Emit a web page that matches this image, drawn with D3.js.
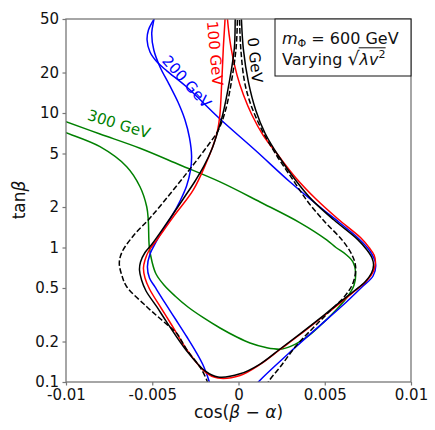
<!DOCTYPE html>
<html>
<head>
<meta charset="utf-8">
<script src="https://cdn.jsdelivr.net/npm/d3@7"></script>
<style>
  body { margin: 0; background: #fff; }
  svg { display: block; }
  text { font-family: "DejaVu Sans", sans-serif; fill: #111; }
</style>
</head>
<body>
<svg id="chart" width="435" height="430"></svg>
<script>
// Axis ticks
const xTicks = [-0.01, -0.005, 0, 0.005, 0.01];
const xTickLabels = ["-0.01", "-0.005", "0", "0.005", "0.01"];
const yTicks = [0.1, 0.2, 0.5, 1, 2, 5, 10, 20, 50];
const yTickLabels = ["0.1", "0.2", "0.5", "1", "2", "5", "10", "20", "50"];

// Contours in (cos(beta - alpha), tan beta); sqrt(lambda v^2) = 0 GeV
const contour0 = [
  [-0.00018, 56], [-0.00019, 50], [-0.00024, 30.4], [-0.00053, 17.1], [-0.00092, 9.66],
  [-0.00119, 7.35], [-0.00154, 5.40], [-0.002, 4.04], [-0.00255, 3.07], [-0.00313, 2.375],
  [-0.00417, 1.51], [-0.00501, 1.062], [-0.00542, 0.918], [-0.00568, 0.78], [-0.00574, 0.68],
  [-0.00562, 0.573], [-0.00536, 0.475], [-0.00474, 0.363], [-0.00416, 0.279], [-0.003, 0.170],
  [-0.00194, 0.121], [-0.00119, 0.109], [0.00009, 0.115], [0.00125, 0.136], [0.00241, 0.176],
  [0.00357, 0.228], [0.00472, 0.297], [0.00559, 0.367], [0.0067, 0.475], [0.00733, 0.554],
  [0.00771, 0.646], [0.00783, 0.741], [0.00774, 0.836], [0.00745, 0.958], [0.00693, 1.14],
  [0.00554, 1.60], [0.00426, 2.26], [0.0033, 3.18], [0.00235, 4.73], [0.00154, 7.07],
  [0.001, 10.5], [0.00057, 17.1], [0.00028, 30], [0.00017, 50], [0.00016, 56]
];

// Reference contour (dashed), two open branches
const referenceLeft = [
  [-0.00005, 56], [-0.00006, 50], [-0.00014, 30.4], [-0.00041, 17.1], [-0.00075, 10.5],
  [-0.00117, 7.47], [-0.00197, 5.31], [-0.0029, 3.71], [-0.00397, 2.50], [-0.00513, 1.657],
  [-0.00606, 1.238], [-0.00675, 0.926], [-0.00691, 0.763], [-0.00675, 0.614], [-0.00648, 0.511],
  [-0.00532, 0.363], [-0.00445, 0.289], [-0.00358, 0.230], [-0.00299, 0.173], [-0.00223, 0.129],
  [-0.0018, 0.1], [-0.0017, 0.087]
];
const referenceRight = [
  [0.00005, 56], [0.00006, 50], [0.00013, 30.4], [0.00035, 17.1], [0.00072, 11.5],
  [0.00136, 7.47], [0.00223, 4.79], [0.00316, 3.18], [0.00403, 2.18], [0.00501, 1.547],
  [0.006, 1.14], [0.00658, 0.88], [0.00679, 0.716], [0.00664, 0.545], [0.00617, 0.436],
  [0.0053, 0.337], [0.00432, 0.252], [0.00333, 0.185], [0.00246, 0.1315], [0.00173, 0.1],
  [0.00148, 0.084]
];

// sqrt(lambda v^2) = 100 GeV
const contour100 = [
  [-0.00066, 56], [-0.00064, 50], [-0.00043, 30.4], [-0.00009, 19.2], [0.00029, 13.6],
  [0.00078, 9.66], [0.00142, 6.86], [0.00229, 4.87], [0.00333, 3.29], [0.00449, 2.294],
  [0.00577, 1.629], [0.0071, 1.177], [0.00757, 1.0], [0.00786, 0.88], [0.00794, 0.78],
  [0.00783, 0.669], [0.00745, 0.568], [0.00678, 0.479], [0.00565, 0.364], [0.00472, 0.294],
  [0.00357, 0.2255], [0.00241, 0.1745], [0.00125, 0.135], [0.00009, 0.1118], [-0.00119, 0.107],
  [-0.00191, 0.118], [-0.00293, 0.169], [-0.00391, 0.27], [-0.00449, 0.355], [-0.00516, 0.4915],
  [-0.00542, 0.593], [-0.00551, 0.704], [-0.00542, 0.807], [-0.00519, 0.95], [-0.00478, 1.118],
  [-0.00378, 1.69], [-0.00262, 2.68], [-0.00188, 4.23], [-0.00148, 5.68], [-0.00122, 7.35],
  [-0.00108, 9.66], [-0.00097, 17.1], [-0.00088, 30.4], [-0.00078, 50], [-0.00077, 56]
];

// sqrt(lambda v^2) = 200 GeV: branch down the left side, and branch sweeping right
const contour200Left = [
  [-0.00484, 58.3], [-0.0049, 50], [-0.00503, 39.3], [-0.00491, 29.4], [-0.00455, 22.0],
  [-0.00403, 16.4], [-0.00351, 12.07], [-0.0031, 8.87], [-0.00284, 6.52], [-0.00272, 4.79],
  [-0.00278, 3.77], [-0.00301, 2.866], [-0.00339, 2.217], [-0.00386, 1.715], [-0.00438, 1.35],
  [-0.00481, 1.08], [-0.00513, 0.895], [-0.00528, 0.72], [-0.00516, 0.593], [-0.00484, 0.509],
  [-0.00426, 0.387], [-0.00362, 0.289], [-0.00299, 0.216], [-0.00246, 0.167], [-0.00203, 0.1315],
  [-0.00169, 0.1], [-0.00159, 0.087]
];
const contour200Right = [
  [-0.00465, 58.3], [-0.0049, 50], [-0.00522, 41.4], [-0.0053, 34.9], [-0.00513, 28.4],
  [-0.00472, 23.9], [-0.00414, 20.5], [-0.003, 15.6], [-0.00107, 9.03], [0.00096, 5.31],
  [0.00299, 3.07], [0.00472, 2.0], [0.00588, 1.521], [0.00693, 1.177], [0.00762, 0.942],
  [0.00795, 0.754], [0.0078, 0.614], [0.00716, 0.509], [0.006, 0.367], [0.00443, 0.244],
  [0.00287, 0.1615], [0.00115, 0.1], [0.00078, 0.087]
];

// sqrt(lambda v^2) = 300 GeV
const contour300 = [
  [-0.01058, 7.66], [-0.01, 7.14], [-0.00803, 5.62], [-0.00648, 3.99], [-0.00571, 2.83],
  [-0.00532, 2.01], [-0.00523, 1.60], [-0.00517, 1.01], [-0.00501, 0.78], [-0.00478, 0.635],
  [-0.00432, 0.526], [-0.00368, 0.436], [-0.00293, 0.361], [-0.00206, 0.302], [-0.00107, 0.252],
  [-0.0001, 0.216], [0.00067, 0.195], [0.00159, 0.1805], [0.00252, 0.176], [0.00333, 0.192],
  [0.00409, 0.222], [0.0049, 0.275], [0.00571, 0.349], [0.00635, 0.436], [0.0067, 0.526],
  [0.00679, 0.657], [0.00664, 0.78], [0.00623, 0.887], [0.00565, 1.0], [0.00511, 1.14],
  [0.00357, 1.526], [0.00125, 2.18], [-0.00107, 3.074], [-0.00339, 4.107], [-0.00571, 5.47],
  [-0.00803, 6.98], [-0.01, 8.61], [-0.01064, 9.26]
];

const svg = d3.select("#chart");
const plot = { left: 66, right: 411, top: 19, bottom: 382 };

const x = d3.scaleLinear().domain([-0.01, 0.01]).range([plot.left, plot.right]);
const y = d3.scaleLog().domain([0.1, 50]).range([plot.bottom, plot.top]);

svg.append("defs").append("clipPath").attr("id", "plot-clip")
  .append("rect")
  .attr("x", plot.left).attr("y", plot.top)
  .attr("width", plot.right - plot.left).attr("height", plot.bottom - plot.top);

const line = d3.line()
  .x(d => x(d[0]))
  .y(d => y(d[1]))
  .curve(d3.curveCatmullRom.alpha(0.5));

const curves = svg.append("g").attr("clip-path", "url(#plot-clip)");

const series = [
  { data: contour300, color: "#008000", dash: null },
  { data: contour200Left, color: "#0000ff", dash: null },
  { data: contour200Right, color: "#0000ff", dash: null },
  { data: contour100, color: "#ff0000", dash: null },
  { data: contour0, color: "#000000", dash: null },
  { data: referenceLeft, color: "#000000", dash: "5.5,2.4" },
  { data: referenceRight, color: "#000000", dash: "5.5,2.4" }
];

series.forEach(s => {
  curves.append("path")
    .attr("d", line(s.data))
    .attr("fill", "none")
    .attr("stroke", s.color)
    .attr("stroke-width", 1.5)
    .attr("stroke-dasharray", s.dash);
});

// Axes
const axisColor = "#777";
const xAxis = d3.axisBottom(x).tickValues(xTicks)
  .tickFormat((d, i) => xTickLabels[i]).tickSize(3.5).tickPadding(3.5).tickSizeOuter(0);
const yAxis = d3.axisLeft(y).tickValues(yTicks)
  .tickFormat((d, i) => yTickLabels[i]).tickSize(3.5).tickPadding(3.5).tickSizeOuter(0);

const gx = svg.append("g").attr("transform", `translate(0,${plot.bottom})`).call(xAxis);
const gy = svg.append("g").attr("transform", `translate(${plot.left},0)`).call(yAxis);
[gx, gy].forEach(g => {
  g.select(".domain").remove();
  g.selectAll(".tick line").attr("stroke", axisColor).attr("stroke-width", 1.2);
  g.selectAll(".tick text")
    .attr("fill", "#111")
    .style("font-family", "'DejaVu Sans', sans-serif")
    .style("font-size", "15px");
});

// Frame
svg.append("rect")
  .attr("x", plot.left).attr("y", plot.top)
  .attr("width", plot.right - plot.left).attr("height", plot.bottom - plot.top)
  .attr("fill", "none").attr("stroke", axisColor).attr("stroke-width", 1.3);

// Axis titles
const xt = svg.append("text")
  .attr("x", x(0)).attr("y", 418)
  .attr("text-anchor", "middle")
  .style("font-size", "17px");
xt.append("tspan").text("cos(");
xt.append("tspan").attr("font-style", "italic").text("β");
xt.append("tspan").text(" − ");
xt.append("tspan").attr("font-style", "italic").text("α");
xt.append("tspan").text(")");

const yt = svg.append("text")
  .attr("transform", "translate(25,200) rotate(-90)")
  .attr("text-anchor", "middle")
  .style("font-size", "17px");
yt.append("tspan").text("tan");
yt.append("tspan").attr("font-style", "italic").text("β");

// Curve labels
const curveLabels = [
  { text: "300 GeV", color: "#008000", at: [-0.00693, 8.28], angle: 17 },
  { text: "200 GeV", color: "#0000ff", at: [-0.0030, 17.1], angle: 48 },
  { text: "100 GeV", color: "#ff0000", at: [-0.00136, 27.8], angle: 85 },
  { text: "0 GeV", color: "#000000", at: [0.00096, 24.8], angle: 84 }
];
curveLabels.forEach(l => {
  svg.append("text")
    .attr("transform", `translate(${x(l.at[0])},${y(l.at[1])}) rotate(${l.angle})`)
    .attr("text-anchor", "middle")
    .attr("dy", "0.35em")
    .style("font-size", "15px")
    .style("fill", l.color)
    .text(l.text);
});

// Annotation box
svg.append("rect")
  .attr("x", 275).attr("y", plot.top)
  .attr("width", plot.right - 275).attr("height", 57)
  .attr("fill", "#fff").attr("stroke", "#111").attr("stroke-width", 1);

const t1 = svg.append("text").attr("x", 282).attr("y", 44).style("font-size", "16px");
t1.append("tspan").attr("font-style", "italic").text("m");
t1.append("tspan").attr("dy", 3).style("font-size", "11px").text("Φ");
t1.append("tspan").attr("dy", -3).text(" = 600 GeV");

const t2 = svg.append("text").attr("x", 282).attr("y", 65).style("font-size", "16px");
const pre = t2.append("tspan").text("Varying ");
const rad = t2.append("tspan").style("font-size", "19px").text("√");
const arg = t2.append("tspan").attr("font-style", "italic").text("λv");
const sup = t2.append("tspan").attr("dy", -7).style("font-size", "11px").text("2");

const preW = pre.node().getComputedTextLength();
const radW = rad.node().getComputedTextLength();
const argW = arg.node().getComputedTextLength();
const supW = sup.node().getComputedTextLength();
const barStart = 282 + preW + radW - 0.8;
svg.append("line")
  .attr("x1", barStart).attr("x2", barStart + argW + supW + 1)
  .attr("y1", 47.8).attr("y2", 47.8)
  .attr("stroke", "#111").attr("stroke-width", 1);
</script>
</body>
</html>
